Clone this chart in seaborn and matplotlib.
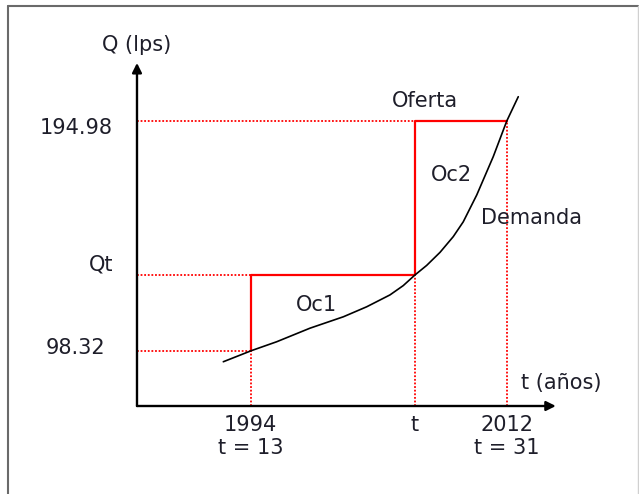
import matplotlib
matplotlib.use("Agg")
import matplotlib.pyplot as plt
import seaborn as sns
import pandas as pd
from matplotlib.lines import Line2D

# ---------------- data ----------------
# symbolic positions on the time axis (years since origin)
t_pos = [13, 24.55, 31]
year_labels = ["1994", "t", "2012"]
t_eq_labels = ["t = 13", "", "t = 31"]

# flow levels (lps)
q_pos = [98.32, 130.3, 194.98]
q_labels = ["98.32", "Qt", "194.98"]

# demand curve
demand_t = [11.07, 13.06, 14.82, 17.16, 19.51, 21.15, 22.79, 23.72, 24.55,
            25.37, 26.31, 27.24, 27.94, 28.89, 30.05, 31.0, 31.81]
demand_q = [93.8, 98.5, 102.2, 107.9, 112.7, 116.9, 121.9, 125.8, 130.3,
            134.3, 139.8, 146.4, 152.6, 163.9, 180.0, 194.98, 205.2]

# supply (oferta) step
oferta_t = [13, 13, 24.55, 24.55, 31]
oferta_q = [98.32, 130.3, 130.3, 194.98, 194.98]

# axis origin / arrow ends
t0, q0 = 5.0, 75.2
t_end, q_end = 34.45, 219.4

# ---------------- figure ----------------
sns.set_style("white")
fig = plt.figure(figsize=(6.39, 4.94), dpi=100)
ax = fig.add_axes([0, 0, 1, 1])
ax.set_xlim(-4.633, 40.30)
ax.set_ylim(38.21, 245.86)
ax.axis("off")

RED = "#ff0000"
TXT = "#1e1e2a"
FS = 15

# dotted guide lines
dot = dict(color=RED, lw=1.3, linestyle=(0, (1, 1)), zorder=2)
ax.plot([t0, oferta_t[0]], [q_pos[0], q_pos[0]], **dot)
ax.plot([t0, oferta_t[0]], [q_pos[1], q_pos[1]], **dot)
ax.plot([t0, t_pos[1]], [q_pos[2], q_pos[2]], **dot)
ax.plot([t_pos[0], t_pos[0]], [q0, q_pos[0]], **dot)
ax.plot([t_pos[1], t_pos[1]], [q0, q_pos[1]], **dot)
ax.plot([t_pos[2], t_pos[2]], [q0, q_pos[2]], **dot)

# supply step and demand curve
df_of = pd.DataFrame({"t": oferta_t, "q": oferta_q})
sns.lineplot(data=df_of, x="t", y="q", sort=False, estimator=None,
             errorbar=None, color=RED, lw=1.6, ax=ax, zorder=3)
df_de = pd.DataFrame({"t": demand_t, "q": demand_q})
sns.lineplot(data=df_de, x="t", y="q", sort=False, estimator=None,
             errorbar=None, color="black", lw=1.2, ax=ax, zorder=4)
ax.set_xlabel("")
ax.set_ylabel("")

# axes with arrows
arrow = dict(arrowstyle="-|>", color="black", lw=1.7, mutation_scale=14,
             shrinkA=0, shrinkB=0)
ax.annotate("", xy=(t_end, q0), xytext=(t0, q0), arrowprops=arrow, zorder=5)
ax.annotate("", xy=(t0, q_end), xytext=(t0, q0), arrowprops=arrow, zorder=5)

# axis titles
ax.text(t0, 226.9, "Q (lps)", ha="center", va="center", fontsize=FS, color=TXT)
ax.text(34.86, 84.9, "t (años)", ha="center", va="center", fontsize=FS, color=TXT)

# y labels
ax.text(2.75, 99.6, q_labels[0], ha="right", va="center", fontsize=FS, color=TXT)
ax.text(3.31, 134.5, q_labels[1], ha="right", va="center", fontsize=FS, color=TXT)
ax.text(3.31, 192.06, q_labels[2], ha="right", va="center", fontsize=FS, color=TXT)

# x labels
for tp, yl, el in zip(t_pos, year_labels, t_eq_labels):
    ax.text(tp, 67.2, yl, ha="center", va="center", fontsize=FS, color=TXT)
    if el:
        ax.text(tp, 57.6, el, ha="center", va="center", fontsize=FS, color=TXT)

# annotations
ax.text(25.25, 203.4, "Oferta", ha="center", va="center", fontsize=FS, color=TXT)
ax.text(27.13, 172.3, "Oc2", ha="center", va="center", fontsize=FS, color=TXT)
ax.text(32.75, 154.1, "Demanda", ha="center", va="center", fontsize=FS, color=TXT)
ax.text(17.59, 117.7, "Oc1", ha="center", va="center", fontsize=FS, color=TXT)

# frame of the picture (left/top dark, right light)
W, H = 639, 494
fig.add_artist(Line2D([7.5 / W, 7.5 / W], [0, 1 - 6 / H], transform=fig.transFigure,
                      color="#6a6a6a", lw=1.5))
fig.add_artist(Line2D([7.5 / W, 638 / W], [1 - 6 / H, 1 - 6 / H], transform=fig.transFigure,
                      color="#6a6a6a", lw=1.5))
fig.add_artist(Line2D([638 / W, 638 / W], [0, 1 - 6 / H], transform=fig.transFigure,
                      color="#d0d0d0", lw=1.0))

fig.savefig("out.png", dpi=100)
